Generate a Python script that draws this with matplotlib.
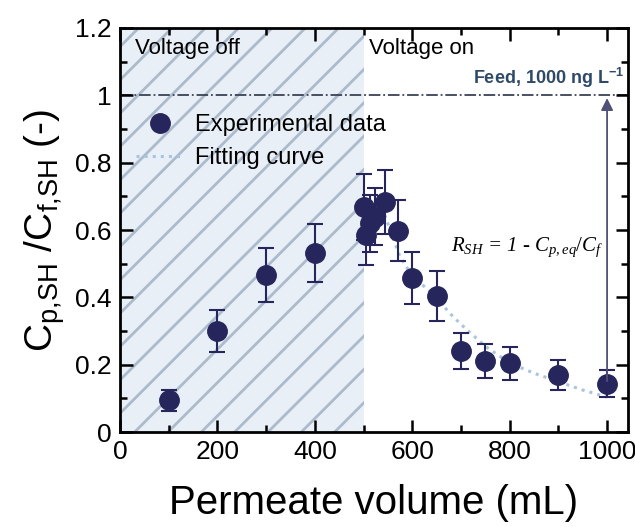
import matplotlib.pyplot as plt
import numpy as np
from matplotlib.lines import Line2D
from matplotlib.ticker import MultipleLocator, FormatStrFormatter

plt.rcParams['font.family'] = ['Liberation Sans', 'DejaVu Sans']
plt.rcParams['mathtext.fontset'] = 'custom'
plt.rcParams['mathtext.rm'] = 'Liberation Serif'
plt.rcParams['mathtext.it'] = 'Liberation Serif:italic'
plt.rcParams['hatch.linewidth'] = 2.0

vol = [100, 200, 300, 400, 500, 505, 513, 523, 545, 570, 600, 650, 700, 750, 800, 900, 1000]
ratio = [0.094, 0.30, 0.467, 0.533, 0.667, 0.585, 0.62, 0.64, 0.684, 0.598,
         0.457, 0.403, 0.24, 0.212, 0.204, 0.17, 0.143]
ratio_err = [0.032, 0.063, 0.08, 0.086, 0.098, 0.09, 0.085, 0.085, 0.095, 0.09,
             0.078, 0.074, 0.054, 0.051, 0.05, 0.045, 0.04]

# fitting curve
fit_vol = [530, 545, 560, 575, 600, 650, 675, 700, 750, 800, 850, 900, 950, 1000]
fit_ratio = [0.66, 0.64, 0.578, 0.52, 0.464, 0.40, 0.356, 0.32, 0.255, 0.205, 0.175, 0.15, 0.125, 0.104]

feed_level = 1.0
voltage_switch = 500

navy = '#26265c'
fit_col = '#a9c4dc'

fig = plt.figure(figsize=(6.35, 5.27), dpi=100)
ax = fig.add_axes([0.189, 0.180, 0.800, 0.767])

# voltage off zone
ax.axvspan(0, voltage_switch, facecolor='#e9eff6', edgecolor='#abbbcc', hatch='/', lw=0, zorder=0)

# feed line
ax.axhline(feed_level, color='#3a4255', lw=1.3, ls='-.', zorder=1)
ax.text(1035, 1.015, 'Feed, 1000 ng L$\\mathregular{^{-1}}$', ha='right', va='bottom',
        fontsize=13, fontweight='bold', color='#2f4a68')

# fitting curve
ax.plot(fit_vol, fit_ratio, ls=':', color=fit_col, lw=2.2, zorder=2)

# data
ax.errorbar(vol, ratio, yerr=ratio_err, fmt='o', color=navy, ms=14, ecolor=navy,
            elinewidth=1.5, capsize=6, capthick=1.5, zorder=3)

# rejection arrow
ax.annotate('', xy=(1000, feed_level), xytext=(1000, ratio[-1]),
            arrowprops=dict(arrowstyle='-|>', color='#505078', lw=1.3, mutation_scale=18),
            zorder=4)
ax.text(835, 0.55, '$R_{SH}$ = 1 - $C_{p,eq}/C_f$', ha='center', va='center',
        fontsize=15, family='Liberation Serif', style='italic')

ax.text(30, 1.14, 'Voltage off', fontsize=16, ha='left', va='center')
ax.text(512, 1.14, 'Voltage on', fontsize=16, ha='left', va='center')

handles = [Line2D([], [], ls='none', marker='o', ms=14, color=navy),
           Line2D([], [], ls=':', lw=2.2, color=fit_col)]
labels = ['Experimental data', 'Fitting curve']
ax.legend(handles, labels, loc='upper left', bbox_to_anchor=(0.013, 0.81),
          frameon=False, fontsize=17, handlelength=2.0, handletextpad=0.5,
          labelspacing=0.45, borderaxespad=0)

ax.set_xlim(0, 1043)
ax.set_ylim(0, 1.2)
ax.xaxis.set_major_locator(MultipleLocator(200))
ax.xaxis.set_minor_locator(MultipleLocator(100))
ax.yaxis.set_major_locator(MultipleLocator(0.2))
ax.yaxis.set_minor_locator(MultipleLocator(0.1))
ax.yaxis.set_major_formatter(FormatStrFormatter('%g'))
ax.tick_params(which='both', direction='in', top=True, right=True, width=1.8)
ax.tick_params(which='major', length=9, labelsize=19, pad=6)
ax.tick_params(which='minor', length=5)
for s in ax.spines.values():
    s.set_linewidth(2)

ax.set_xlabel('Permeate volume (mL)', fontsize=29, labelpad=14)
ax.set_ylabel('$\\mathregular{C_{p{,}SH}}$ /$\\mathregular{C_{f{,}SH}}$ (-)', fontsize=28, labelpad=6)

fig.savefig('out.png', dpi=100)
